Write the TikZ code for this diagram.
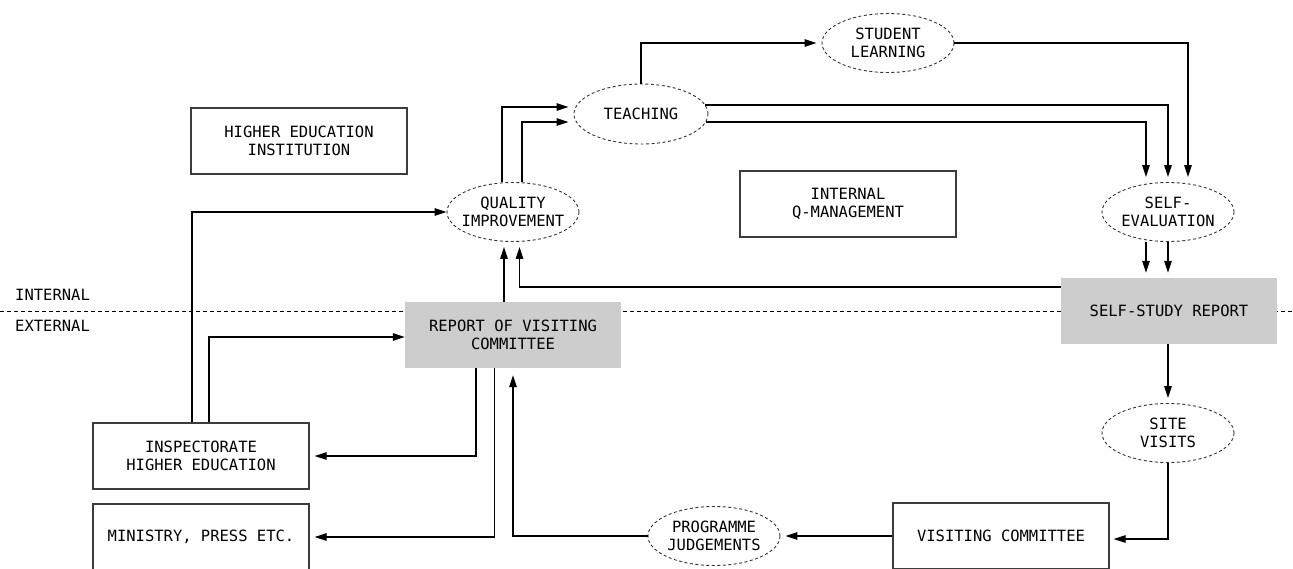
\documentclass[tikz,border=0pt]{standalone}
\usepackage{fontspec}
\setmonofont{DejaVu Sans Mono}
\usetikzlibrary{arrows.meta,shapes.geometric}
\definecolor{boxfill}{RGB}{205,205,205}
\definecolor{edge}{RGB}{60,60,60}

\begin{document}
\begin{tikzpicture}[x=1pt,y=-1pt,
  every node/.style={font=\fontsize{15.5}{18.5}\selectfont\ttfamily, align=center, inner sep=0pt},
  box/.style={rectangle, draw=edge, line width=1.2pt, minimum width=216pt, minimum height=66pt},
  report/.style={rectangle, fill=boxfill, minimum width=216pt, minimum height=66pt},
  oval/.style={ellipse, draw=black!80, line width=0.9pt, dash pattern=on 3pt off 2.5pt,
               inner xsep=-8pt, minimum width=132pt, minimum height=59pt},
  conn/.style={line width=1.2pt, -{Triangle[length=12pt,width=7.5pt]}, shorten >=5pt},
  flush/.style={shorten >=0pt},
  divider/.style={line width=1pt, dash pattern=on 4pt off 3pt}
]
\useasboundingbox (0,0) rectangle (1293,568);

% internal / external boundary
\coordinate (divl) at (0,311);
\coordinate (divr) at (1293,311);
\draw[divider] (divl) -- (divr);
\node[anchor=west] (lin) at (15,295) {INTERNAL};
\node[anchor=west] (lex) at (15,326) {EXTERNAL};

% nodes
\node[box] (hei) at (299,141) {HIGHER EDUCATION\\INSTITUTION};
\node[box] (iqm) at (848,204) {INTERNAL\\Q-MANAGEMENT};
\node[oval] (qi) at (513,212) {QUALITY\\IMPROVEMENT};
\node[oval, minimum width=134pt, minimum height=60pt] (teach) at (641,114) {TEACHING};
\node[oval] (sl) at (888,43) {STUDENT\\LEARNING};
\node[oval] (se) at (1168,212) {SELF-\\EVALUATION};
\node[report] (ssr) at (1169,311) {SELF-STUDY REPORT};
\node[report] (rvc) at (513,335) {REPORT OF VISITING\\COMMITTEE};
\node[oval] (sv) at (1168,433) {SITE\\VISITS};
\node[box] (vc) at (1001,536) {VISITING COMMITTEE};
\node[oval] (pj) at (714,536) {PROGRAMME\\JUDGEMENTS};
\node[box] (ihe) at (201,456) {INSPECTORATE\\HIGHER EDUCATION};
\node[box] (mpe) at (201,537) {MINISTRY, PRESS ETC.};

% internal cycle
\draw[conn] (teach.north) |- (sl.west);
\draw[conn] (sl.east) -| ([xshift=20pt]se.north);
\draw[conn] (teach.8) -| (se.north);
\draw[conn] (teach.-7) -| ([xshift=-22pt]se.north);
\draw[conn] ([xshift=-11pt]qi.north) |- ([yshift=7pt]teach.west);
\draw[conn] ([xshift=9pt]qi.north) |- ([yshift=-8pt]teach.west);
\draw[conn] ([xshift=-22pt]se.south) -- ([xshift=-22pt]se.south |- ssr.north);
\draw[conn] (se.south) -- (se.south |- ssr.north);
\draw[conn] ([yshift=24pt]ssr.west) -| ([xshift=6.5pt]qi.south);
\draw[conn] ([xshift=-9pt]rvc.north) -- ([xshift=-9pt]qi.south);

% external review
\draw[conn] (sv.north |- ssr.south) -- (sv.north);
\draw[conn, shorten >=4pt] (sv.south) |- ([yshift=-3pt]vc.east);
\draw[conn] (vc.west) -- (pj.east);
\draw[conn, shorten >=7pt] (pj.west) -| (rvc.south);
\draw[conn] ([xshift=-37pt]rvc.south) |- (ihe.east);
\draw[conn] ([xshift=-18.5pt]rvc.south) |- (mpe.east);
\draw[conn, flush] ([xshift=-9pt]ihe.north) |- (qi.west);
\draw[conn, flush] ([xshift=8pt]ihe.north) |- ([yshift=-2pt]rvc.west);
\end{tikzpicture}
\end{document}
